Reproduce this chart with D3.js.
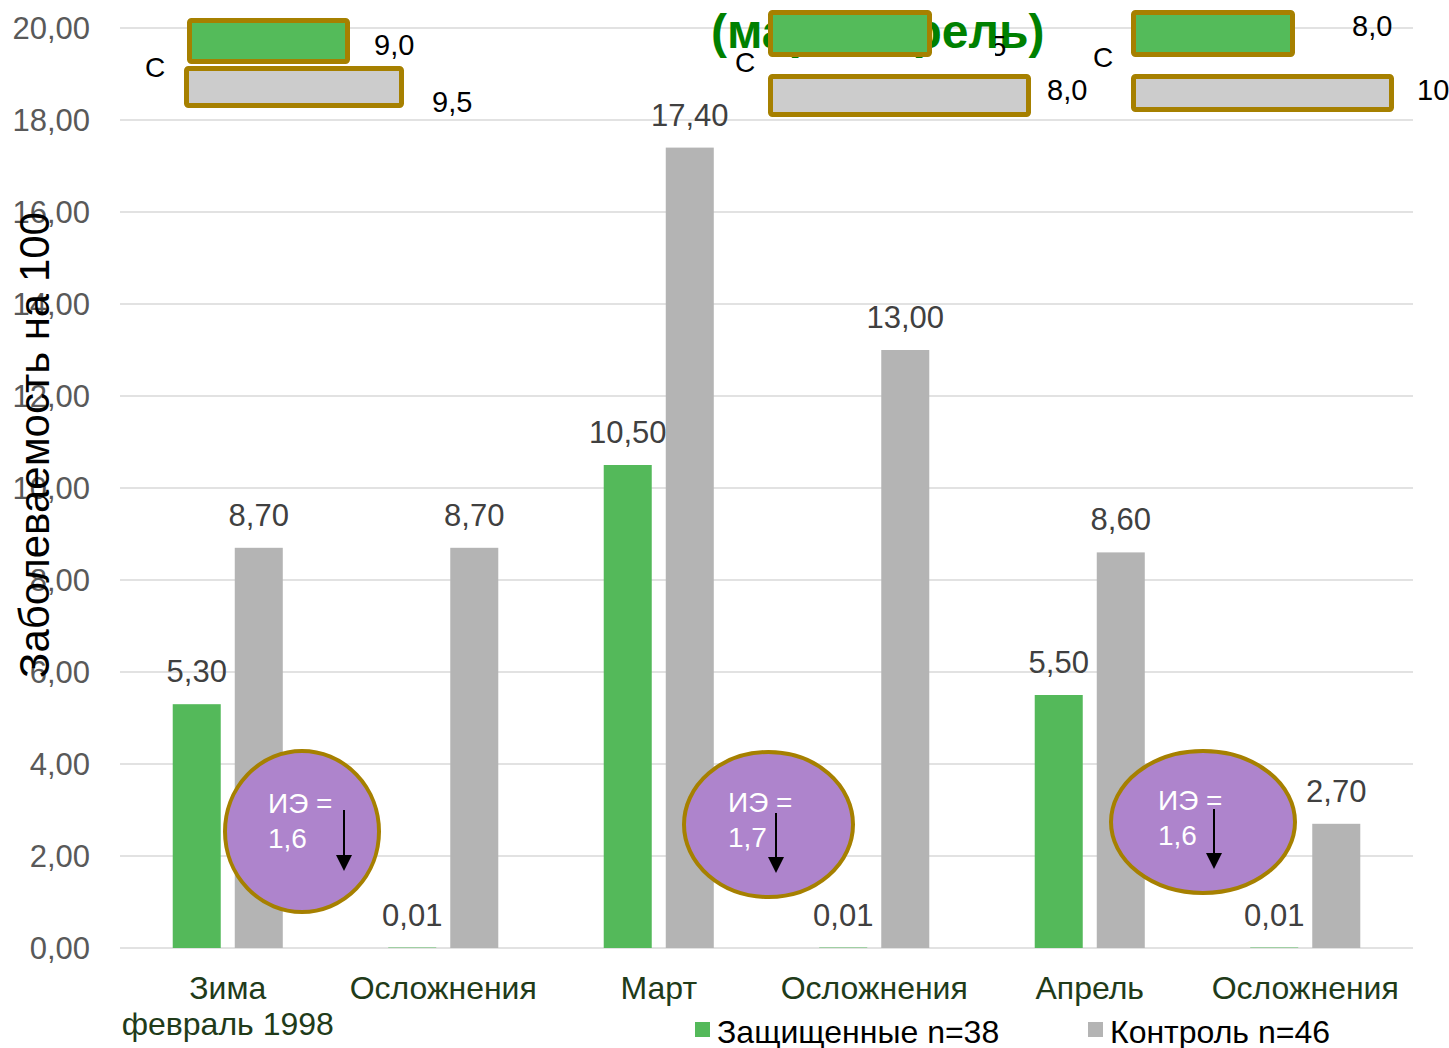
<!DOCTYPE html>
<html lang="ru">
<head>
  <meta charset="UTF-8">
  <title>Заболеваемость</title>
  <script src="https://d3js.org/d3.v7.min.js"></script>
  <style>
    body { margin: 0; background: #fff; }
    text { font-family: "Liberation Sans", Arial, sans-serif; }
  </style>
</head>
<body>
  <svg id="chart" width="1449" height="1048"></svg>
  <script>
    // data
    const categoryLabels = [["Зима", "февраль 1998"], ["Осложнения"], ["Март"], ["Осложнения"], ["Апрель"], ["Осложнения"]];
    const protectedVals = [5.30, 0.01, 10.50, 0.01, 5.50, 0.01];
    const controlVals = [8.70, 8.70, 17.40, 13.00, 8.60, 2.70];
    const yTicks = [0, 2, 4, 6, 8, 10, 12, 14, 16, 18, 20];
    const seriesNames = ["Защищенные n=38", "Контроль n=46"];

    // small overlay boxes and efficiency index
    const miniProtected = [9.0, 8.5, 8.0];
    const miniControl = [9.5, 8.0, 10.0];
    const ieValues = [1.6, 1.7, 1.6];

    const green = "#54b95a", grey = "#b4b4b4", gold = "#a68000";
    const ru = d3.formatLocale({ decimal: ",", thousands: " ", grouping: [3], currency: ["", ""] });
    const f2 = ru.format(".2f"), f1 = ru.format(".1f");

    const svg = d3.select("#chart");
    const plotL = 120, plotR = 1413, plotT = 28, plotB = 948;

    const x = d3.scaleBand().domain(d3.range(categoryLabels.length)).range([plotL, plotR]);
    const xSub = d3.scaleBand().domain([0, 1]).range([0, x.bandwidth()])
      .paddingInner(0.226).paddingOuter(0.85);
    const y = d3.scaleLinear().domain([0, 20]).range([plotB, plotT]);

    // gridlines + tick labels
    svg.append("g").selectAll("line").data(yTicks).join("line")
      .attr("x1", plotL).attr("x2", plotR)
      .attr("y1", d => y(d)).attr("y2", d => y(d))
      .attr("stroke", "#d9d9d9").attr("stroke-width", 1.5);
    svg.append("g").selectAll("text").data(yTicks).join("text")
      .attr("x", 90).attr("y", d => y(d) + 11)
      .attr("text-anchor", "end").attr("font-size", 31).attr("fill", "#595959")
      .text(d => f2(d));

    // bars
    const rows = categoryLabels.map((c, i) => [protectedVals[i], controlVals[i]]);
    const grp = svg.append("g").selectAll("g").data(rows).join("g")
      .attr("transform", (d, i) => `translate(${x(i)},0)`);
    grp.selectAll("rect").data(d => d).join("rect")
      .attr("x", (d, j) => xSub(j)).attr("width", xSub.bandwidth())
      .attr("y", d => y(d)).attr("height", d => plotB - y(d))
      .attr("fill", (d, j) => j ? grey : green);
    grp.selectAll("text").data(d => d).join("text")
      .attr("x", (d, j) => xSub(j) + xSub.bandwidth() / 2)
      .attr("y", d => y(d) - 22)
      .attr("text-anchor", "middle").attr("font-size", 31).attr("fill", "#404040")
      .text(d => f2(d));

    // title (mostly hidden behind the overlay boxes)
    svg.append("text").attr("x", 711).attr("y", 48)
      .attr("font-size", 48).attr("font-weight", "bold").attr("fill", "#008000")
      .text("(март-апрель)");

    // overlay boxes: [x, y, w, h] centre-line rects
    const boxes = [
      { g: [189.5, 20.5, 158, 41], c: [186.5, 68.5, 215, 37], gl: [374, 55], cl: [432, 112], C: [155, 77] },
      { g: [770.5, 12.5, 159, 42], c: [770.5, 76.5, 258, 38], gl: [966, 56], cl: [1047, 100], C: [745, 72] },
      { g: [1133.5, 12.5, 159, 42], c: [1133.5, 76.5, 258, 33], gl: [1352, 36], cl: [1417, 100], C: [1103, 67] }
    ];
    svg.append("defs").append("clipPath").attr("id", "cut")
      .append("rect").attr("x", 995).attr("y", 0).attr("width", 40).attr("height", 80);

    const ov = svg.append("g");
    boxes.forEach((b, i) => {
      [[b.g, "#54bb5a"], [b.c, "#cccccc"]].forEach(([r, fill]) => {
        ov.append("rect").attr("x", r[0]).attr("y", r[1]).attr("width", r[2]).attr("height", r[3])
          .attr("rx", 2).attr("fill", fill).attr("stroke", gold).attr("stroke-width", 5);
      });
      const gt = ov.append("text").attr("x", b.gl[0]).attr("y", b.gl[1])
        .attr("font-size", 29).attr("fill", "#000").text(f1(miniProtected[i]));
      if (i === 1) gt.attr("clip-path", "url(#cut)");
      ov.append("text").attr("x", b.cl[0]).attr("y", b.cl[1])
        .attr("font-size", 29).attr("fill", "#000").text(f1(miniControl[i]));
      ov.append("text").attr("x", b.C[0]).attr("y", b.C[1]).attr("text-anchor", "middle")
        .attr("font-size", 28).attr("fill", "#000").text("С");
    });

    // ИЭ ellipses
    const ells = [
      { cx: 302, cy: 831.5, rx: 77, ry: 80.5, tx: 268, ty: 813, ax: 344, a1: 810, a2: 871 },
      { cx: 768.5, cy: 824.5, rx: 84.5, ry: 72.5, tx: 728, ty: 812, ax: 776, a1: 813, a2: 873 },
      { cx: 1203, cy: 822, rx: 92, ry: 71, tx: 1158, ty: 810, ax: 1214, a1: 809, a2: 869 }
    ];
    const eg = svg.append("g");
    ells.forEach((e, i) => {
      eg.append("ellipse").attr("cx", e.cx).attr("cy", e.cy).attr("rx", e.rx).attr("ry", e.ry)
        .attr("fill", "#ae84cc").attr("stroke", gold).attr("stroke-width", 4);
      const t = eg.append("text").attr("x", e.tx).attr("y", e.ty)
        .attr("font-size", 28).attr("fill", "#fff");
      t.append("tspan").attr("x", e.tx).text("ИЭ =");
      t.append("tspan").attr("x", e.tx).attr("dy", 35).text(f1(ieValues[i]));
      eg.append("line").attr("x1", e.ax).attr("x2", e.ax).attr("y1", e.a1).attr("y2", e.a2 - 14)
        .attr("stroke", "#000").attr("stroke-width", 2);
      eg.append("path").attr("d", `M${e.ax - 8},${e.a2 - 16}L${e.ax + 8},${e.a2 - 16}L${e.ax},${e.a2}Z`)
        .attr("fill", "#000");
    });

    // category labels
    svg.append("g").selectAll("text").data(categoryLabels).join("text")
      .attr("text-anchor", "middle").attr("font-size", 32).attr("fill", "#213b19")
      .attr("y", 999)
      .each(function (lines, i) {
        const t = d3.select(this);
        lines.forEach((l, k) => t.append("tspan")
          .attr("x", x(i) + x.bandwidth() / 2).attr("dy", k ? 36 : 0).text(l));
      });

    // legend
    const lg = svg.append("g").selectAll("g").data(seriesNames).join("g")
      .attr("transform", (d, i) => `translate(${[695, 1088][i]},1022)`);
    lg.append("rect").attr("width", 15).attr("height", 15).attr("fill", (d, i) => i ? grey : green);
    lg.append("text").attr("x", 22).attr("y", 21).attr("font-size", 32).attr("fill", "#000").text(d => d);

    // y axis title
    svg.append("text").attr("transform", "translate(49,445) rotate(-90)")
      .attr("text-anchor", "middle").attr("font-size", 42).attr("fill", "#000")
      .text("Заболеваемость на 100");
  </script>
</body>
</html>
